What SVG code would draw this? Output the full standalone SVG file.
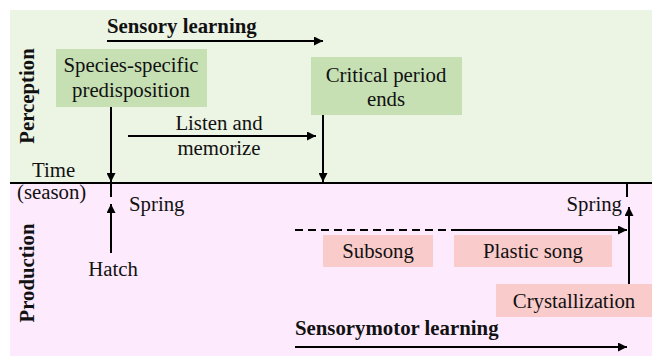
<svg xmlns="http://www.w3.org/2000/svg" width="652" height="356" viewBox="0 0 652 356" font-family="Liberation Serif, Times New Roman, serif">
<defs>
<marker id="ah" viewBox="0 0 10 10" refX="10" refY="5" markerWidth="4.5" markerHeight="4.5" orient="auto" markerUnits="strokeWidth">
<path d="M0,0 L10,5 L0,10 z" fill="#000"/>
</marker>
<style>
text{font-size:20.8px;fill:#111}
.b{font-weight:bold}
.c{text-anchor:middle}
.ln{stroke:#000;stroke-width:2;fill:none}
.ar{stroke:#000;stroke-width:2;fill:none;marker-end:url(#ah)}
.g{fill:#c6e0b4}
.p{fill:#f9cbcb}
</style>
</defs>
<rect width="652" height="356" fill="#fff"/>
<rect id="perception-bg" x="10" y="10" width="642" height="173" fill="#ecf4e4"/>
<rect id="production-bg" x="10" y="183" width="642" height="173" fill="#fdeafd"/>

<g id="labels">
<text class="b" transform="translate(34,96) rotate(-90)" text-anchor="middle">Perception</text>
<text class="b" transform="translate(34,273) rotate(-90)" text-anchor="middle">Production</text>
<text x="32" y="177">Time</text>
<text x="17" y="199">(season)</text>
<text class="b" x="107" y="33">Sensory learning</text>
<text class="b" x="295" y="335">Sensorymotor learning</text>
<text class="c" x="219" y="130">Listen and</text>
<text class="c" x="219" y="155">memorize</text>
<text x="129" y="211">Spring</text>
<text x="622" y="211" text-anchor="end">Spring</text>
<text class="c" x="113" y="276">Hatch</text>
</g>

<g id="species">
<rect class="g" x="56" y="49" width="151" height="58"/>
<text class="c" x="131" y="72">Species-specific</text>
<text class="c" x="131" y="97">predisposition</text>
</g>
<g id="critical">
<rect class="g" x="311" y="57" width="151" height="58"/>
<text class="c" x="386" y="82">Critical period</text>
<text class="c" x="386" y="106">ends</text>
</g>
<g id="subsong">
<rect class="p" x="323" y="235" width="110" height="32"/>
<text class="c" x="378" y="258">Subsong</text>
</g>
<g id="plastic">
<rect class="p" x="454" y="235" width="158" height="32"/>
<text class="c" x="533" y="258">Plastic song</text>
</g>
<g id="crystallization">
<rect class="p" x="496" y="284" width="156" height="33"/>
<text class="c" x="574" y="308">Crystallization</text>
</g>

<g id="connectors">
<line class="ln" x1="10" y1="183" x2="652" y2="183"/>
<line class="ar" x1="107" y1="41" x2="323" y2="41"/>
<line class="ar" x1="128" y1="136" x2="316" y2="136"/>
<line class="ar" x1="111" y1="107" x2="111" y2="182"/>
<line class="ar" x1="323" y1="115" x2="323" y2="182"/>
<line class="ln" x1="111" y1="183" x2="111" y2="197"/>
<line class="ar" x1="111" y1="253" x2="111" y2="204"/>
<line class="ln" x1="627" y1="183" x2="627" y2="197"/>
<line class="ar" x1="629" y1="284" x2="629" y2="207"/>
<line class="ln" x1="295" y1="230" x2="455" y2="230" stroke-dasharray="8,5"/>
<line class="ar" x1="455" y1="230" x2="627" y2="230"/>
<line class="ar" x1="295" y1="347" x2="627" y2="347"/>
</g>
</svg>
